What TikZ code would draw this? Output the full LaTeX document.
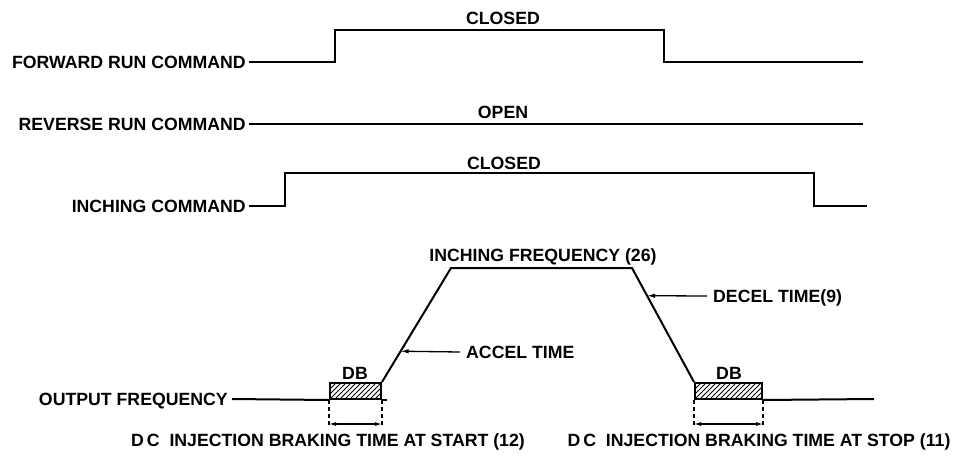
\documentclass[tikz,border=0pt]{standalone}
\usepackage{fontspec}
\setmainfont{Liberation Sans}
\usetikzlibrary{arrows.meta,calc}
\begin{document}
\begin{tikzpicture}[x=1pt,y=-1pt,
  lbl/.style={font=\fontsize{17.7}{18}\selectfont\bfseries, inner sep=0pt, text height=12.8pt, text depth=0pt},
  wave/.style={line width=2pt, line join=miter},
  dimline/.style={line width=1.2pt, dash pattern=on 4pt off 3pt},
  dimarrow/.style={line width=1.2pt, {Latex[length=7pt,width=4pt]}-{Latex[length=7pt,width=4pt]}},
  lead/.style={line width=1.3pt, -{Latex[length=8pt,width=4.5pt]}},
  dbbox/.style={draw, line width=2pt, inner sep=0pt, minimum height=16pt,
    path picture={\foreach \i in {-30,-25,...,80}
      \draw[line width=1pt] ([xshift=\i pt]path picture bounding box.south west) -- ++(20,-20);}},
]
\useasboundingbox (0,0) rectangle (956,458);

% Forward run command
\node[lbl, anchor=east] (fwd) at (246,62) {FORWARD RUN COMMAND};
\coordinate (fwdend) at (863,62);
\draw[wave] ([xshift=3pt]fwd.east) -- (335,62) -- (335,30) -- (664,30) -- (664,62) -- (fwdend);
\node[lbl] (closedA) at (503,18) {CLOSED};

% Reverse run command
\node[lbl, anchor=east] (rev) at (246,124) {REVERSE RUN COMMAND};
\coordinate (revend) at (863,124);
\draw[wave] ([xshift=3pt]rev.east) -- (revend);
\node[lbl] (open) at (503,112) {OPEN};

% Inching command
\node[lbl, anchor=east] (inch) at (246,206) {INCHING COMMAND};
\coordinate (inchend) at (867,206);
\draw[wave] ([xshift=3pt]inch.east) -- (285,206) -- (285,173) -- (814,173) -- (814,206) -- (inchend);
\node[lbl] (closedB) at (504,163) {CLOSED};

% Output frequency
\node[lbl, anchor=east] (out) at (228,399) {OUTPUT FREQUENCY};
\node[dbbox, minimum width=51pt] (dbA) at (355.5,391) {};
\node[dbbox, minimum width=67pt] (dbB) at (728.5,391) {};
\coordinate (topA) at (451,268);
\coordinate (topB) at (632,268);
\coordinate (outend) at (874,399);
\draw[wave] ([xshift=4pt]out.east) -- (dbA.south west);
\draw[wave] (dbA.south east) -- ++(5,0);
\draw[wave] (dbA.north east) -- (topA) -- (topB) -- (dbB.north west);
\draw[wave] (dbB.south east) -- (outend);

\node[lbl] (dbAlbl) at (355,373) {DB};
\node[lbl] (dbBlbl) at (729,373) {DB};
\node[lbl] (ifreq) at (543,255) {INCHING FREQUENCY (26)};

% leaders
\node[lbl, anchor=west] (accel) at (466,352) {ACCEL TIME};
\node[lbl, anchor=west] (decel) at (713,296) {DECEL TIME(9)};
\draw[lead] ([xshift=-6pt]accel.west) -- ($(dbA.north east)!0.27!(topA)$);
\draw[lead] ([xshift=-6pt]decel.west) -- ($(topB)!0.243!(dbB.north west)$);

% dimension lines
\foreach \b in {dbA,dbB}{
  \draw[dimline] (\b.south west) -- ++(0,27);
  \draw[dimline] (\b.south east) -- ++(0,27);
  \draw[dimarrow] ($(\b.south west)+(0,24)$) -- ($(\b.south east)+(0,24)$);
}

\node[lbl] (startlbl) at (328,440) {D\,C\ \ INJECTION BRAKING TIME AT START (12)};
\node[lbl] (stoplbl) at (759,440) {D\,C\ \ INJECTION BRAKING TIME AT STOP (11)};
\end{tikzpicture}
\end{document}
